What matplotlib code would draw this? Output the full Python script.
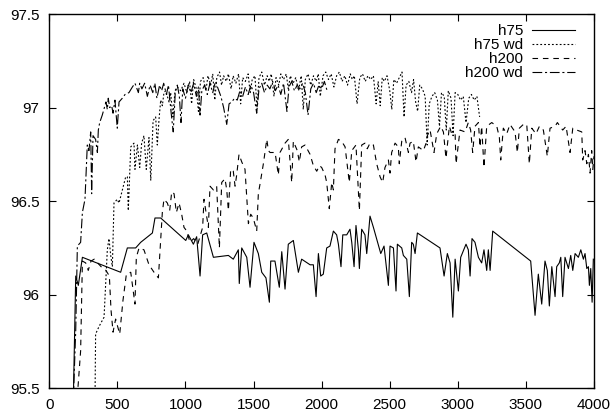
import matplotlib
matplotlib.use('Agg')
import matplotlib.pyplot as plt

# h75 (solid)
x_h75 = [170, 194, 213, 243, 524, 573, 634, 671, 757, 776, 818, 1002, 1021, 1058, 1082,
         1107, 1126, 1156, 1205, 1315, 1351, 1388, 1395, 1413, 1450, 1474, 1503, 1535,
         1560, 1591, 1616, 1626, 1657, 1689, 1707, 1731, 1755, 1792, 1829, 1853, 1915,
         1939, 1959, 1976, 1993, 2012, 2037, 2061, 2086, 2110, 2123, 2142, 2155, 2184,
         2208, 2221, 2238, 2252, 2270, 2277, 2294, 2318, 2331, 2355, 2380, 2434, 2458,
         2490, 2502, 2527, 2546, 2556, 2588, 2600, 2625, 2644, 2661, 2673, 2686, 2703,
         2869, 2899, 2923, 2943, 2963, 2980, 3004, 3021, 3060, 3077, 3090, 3104, 3126,
         3151, 3175, 3192, 3212, 3224, 3237, 3256, 3535, 3567, 3591, 3616, 3640, 3657,
         3672, 3690, 3714, 3726, 3745, 3756, 3770, 3787, 3812, 3829, 3844, 3861, 3885,
         3903, 3922, 3934, 3947, 3959, 3966, 3976, 3986, 3995]
y_h75 = [95.2, 96.10, 96.05, 96.20, 96.12, 96.25, 96.25, 96.28, 96.33, 96.41, 96.41, 96.29,
         96.32, 96.27, 96.31, 96.10, 96.32, 96.33, 96.20, 96.21, 96.19, 96.24, 96.06, 96.25,
         96.20, 96.04, 96.28, 96.22, 96.12, 96.09, 95.96, 96.18, 96.18, 96.04, 96.23, 96.03,
         96.27, 96.29, 96.12, 96.19, 96.16, 96.16, 95.99, 96.22, 96.10, 96.11, 96.25, 96.26,
         96.34, 96.32, 96.27, 96.15, 96.32, 96.32, 96.35, 96.28, 96.15, 96.37, 96.24, 96.14,
         96.35, 96.32, 96.22, 96.42, 96.36, 96.22, 96.26, 96.05, 96.26, 96.25, 96.02, 96.27,
         96.25, 96.21, 96.19, 95.99, 96.28, 96.27, 96.22, 96.33, 96.25, 96.10, 96.22, 96.17,
         95.88, 96.19, 96.02, 96.20, 96.27, 96.24, 96.10, 96.30, 96.28, 96.20, 96.17, 96.24,
         96.13, 96.24, 96.13, 96.34, 96.18, 95.89, 96.11, 95.95, 96.18, 96.13, 95.94, 96.15,
         95.99, 96.15, 96.17, 96.20, 95.99, 96.20, 96.14, 96.21, 96.13, 96.22, 96.20, 96.24,
         96.19, 96.22, 96.14, 96.15, 96.05, 96.14, 95.96, 96.19]

# h75 wd (dotted)
x_h75wd = [330, 340, 365, 402, 426, 438, 451, 463, 475, 499, 512, 561, 573, 580, 598, 622,
           629, 647, 664, 678, 695, 712, 732, 745, 762, 781, 793, 806, 818, 830, 842, 855,
           867, 879, 891, 908, 923, 940, 965, 989, 1010, 1030, 1045, 1060, 1080, 1095, 1110,
           1130, 1150, 1165, 1185, 1200, 1215, 1230, 1250, 1265, 1280, 1300, 1315, 1335,
           1350, 1370, 1390, 1405, 1420, 1440, 1460, 1475, 1490, 1510, 1525, 1540, 1560,
           1580, 1600, 1615, 1630, 1650, 1665, 1685, 1700, 1720, 1740, 1755, 1770, 1790,
           1810, 1830, 1850, 1865, 1880, 1900, 1920, 1940, 1960, 1975, 1990, 2010, 2030,
           2050, 2070, 2090, 2110, 2130, 2150, 2170, 2190, 2210, 2225, 2240, 2260, 2280,
           2300, 2320, 2340, 2360, 2380, 2400, 2415, 2430, 2445, 2460, 2480, 2500, 2515,
           2530, 2550, 2570, 2590, 2605, 2620, 2640, 2660, 2675, 2690, 2705, 2720, 2740,
           2760, 2775, 2790, 2810, 2830, 2850, 2865, 2880, 2900, 2915, 2930, 2950, 2965,
           2980, 3000, 3020, 3040, 3060, 3080, 3100, 3120, 3140, 3160]
y_h75wd = [95.0, 95.79, 95.83, 95.88, 96.24, 96.30, 96.21, 96.15, 96.49, 96.51, 96.49, 96.63,
           96.63, 96.45, 96.79, 96.81, 96.67, 96.80, 96.68, 96.81, 96.85, 96.67, 96.84, 96.61,
           96.93, 96.95, 96.80, 96.94, 97.04, 97.01, 97.08, 97.09, 97.06, 97.03, 97.08, 96.95,
           97.09, 97.11, 97.09, 97.13, 97.08, 97.14, 97.02, 97.15, 97.10, 96.98, 97.14, 97.16,
           97.09, 97.17, 97.12, 97.18, 97.04, 97.16, 97.19, 97.12, 97.17, 97.14, 97.18, 97.10,
           97.17, 97.13, 97.18, 97.02, 97.16, 97.14, 97.18, 97.08, 97.15, 97.17, 97.00, 97.16,
           97.19, 97.12, 97.17, 97.14, 97.18, 97.06, 97.16, 97.12, 97.18, 97.15, 97.18, 97.10,
           97.17, 97.13, 97.16, 97.09, 97.17, 96.99, 97.15, 97.18, 97.12, 97.17, 97.14, 97.18,
           97.06, 97.17, 97.19, 97.15, 97.18, 97.11, 97.17, 97.19, 97.14, 97.17, 97.12, 97.18,
           97.15, 97.17, 97.02, 97.16, 97.18, 97.14, 97.17, 97.15, 97.17, 97.02, 97.14, 97.01,
           97.16, 97.14, 97.17, 97.09, 96.99, 97.15, 97.13, 97.16, 97.19, 96.95, 97.12, 97.14,
           97.08, 97.15, 97.03, 96.98, 97.12, 97.10, 97.06, 96.80, 97.02, 97.06, 97.08, 97.04,
           96.90, 97.08, 97.06, 96.88, 97.09, 97.05, 96.85, 97.08, 97.07, 97.04, 97.06, 96.92,
           97.05, 97.07, 97.04, 97.06, 96.95]

# h200 (dashed)
x_h200 = [190, 230, 243, 267, 286, 306, 330, 355, 380, 416, 441, 453, 468, 487, 517, 541,
          566, 598, 629, 639, 659, 695, 732, 769, 801, 830, 842, 867, 884, 899, 916, 933,
          953, 972, 989, 1010, 1033, 1060, 1090, 1126, 1136, 1168, 1180, 1205, 1229, 1249,
          1266, 1290, 1303, 1315, 1332, 1351, 1364, 1376, 1393, 1413, 1437, 1462, 1479,
          1498, 1523, 1535, 1547, 1572, 1597, 1609, 1621, 1658, 1682, 1694, 1731, 1755,
          1780, 1792, 1821, 1836, 1853, 1878, 1915, 1939, 1964, 1983, 2000, 2025, 2037,
          2056, 2074, 2086, 2098, 2123, 2147, 2172, 2203, 2221, 2252, 2277, 2294, 2318,
          2335, 2355, 2380, 2404, 2429, 2448, 2465, 2490, 2502, 2514, 2539, 2563, 2570,
          2588, 2612, 2637, 2649, 2673, 2693, 2710, 2747, 2767, 2776, 2796, 2825, 2845,
          2874, 2894, 2913, 2938, 2955, 2980, 2987, 3016, 3053, 3077, 3094, 3109, 3126,
          3151, 3163, 3175, 3192, 3212, 3249, 3286, 3305, 3315, 3334, 3359, 3383, 3420,
          3437, 3452, 3481, 3506, 3525, 3543, 3574, 3599, 3628, 3657, 3677, 3714, 3731,
          3751, 3770, 3795, 3824, 3844, 3873, 3910, 3917, 3934, 3947, 3959, 3971, 3983,
          3991, 4000]
y_h200 = [95.3, 95.70, 96.18, 96.17, 96.13, 96.18, 96.19, 96.17, 96.15, 96.13, 96.10, 95.92,
          95.80, 95.87, 95.79, 95.97, 96.11, 96.12, 95.95, 96.20, 96.25, 96.24, 96.16, 96.12,
          96.09, 96.44, 96.51, 96.49, 96.45, 96.55, 96.54, 96.44, 96.49, 96.43, 96.36, 96.34,
          96.28, 96.30, 96.27, 96.36, 96.51, 96.36, 96.58, 96.56, 96.58, 96.25, 96.60, 96.62,
          96.56, 96.45, 96.67, 96.66, 96.58, 96.64, 96.75, 96.71, 96.67, 96.38, 96.43, 96.41,
          96.34, 96.54, 96.59, 96.70, 96.83, 96.77, 96.76, 96.76, 96.64, 96.76, 96.81, 96.83,
          96.60, 96.82, 96.77, 96.71, 96.79, 96.80, 96.75, 96.69, 96.66, 96.69, 96.68, 96.64,
          96.60, 96.46, 96.60, 96.56, 96.78, 96.83, 96.82, 96.79, 96.60, 96.77, 96.80, 96.45,
          96.80, 96.81, 96.78, 96.81, 96.80, 96.70, 96.63, 96.60, 96.68, 96.72, 96.65, 96.76,
          96.81, 96.79, 96.70, 96.82, 96.84, 96.76, 96.81, 96.82, 96.71, 96.79, 96.77, 96.81,
          96.85, 96.88, 96.76, 96.86, 96.90, 96.87, 96.73, 96.90, 96.86, 96.86, 96.70, 96.88,
          96.87, 96.92, 96.88, 96.76, 96.90, 96.92, 96.79, 96.90, 96.68, 96.90, 96.92, 96.90,
          96.84, 96.72, 96.89, 96.86, 96.91, 96.87, 96.76, 96.89, 96.91, 96.91, 96.70, 96.89,
          96.86, 96.90, 96.88, 96.74, 96.89, 96.90, 96.92, 96.90, 96.88, 96.90, 96.76, 96.89,
          96.88, 96.87, 96.72, 96.77, 96.70, 96.75, 96.65, 96.77, 96.67, 96.74]

# h200 wd (dash-dot)
x_h200wd = [165, 194, 206, 230, 243, 262, 279, 291, 304, 311, 321, 340, 353, 360, 370, 389,
            416, 426, 433, 443, 458, 468, 482, 499, 512, 536, 556, 585, 610, 629, 654, 664,
            680, 700, 720, 740, 760, 775, 790, 810, 825, 840, 860, 875, 895, 910, 925, 940,
            955, 967, 980, 1000, 1020, 1040, 1060, 1080, 1095, 1107, 1120, 1140, 1160, 1180,
            1200, 1220, 1240, 1260, 1280, 1303, 1320, 1340, 1360, 1380, 1400, 1420, 1440,
            1460, 1480, 1500, 1523, 1540, 1560, 1580, 1600, 1620, 1640, 1660, 1680, 1700,
            1720, 1745, 1760, 1780, 1800, 1820, 1840, 1860, 1880, 1900, 1920, 1940, 1960,
            1980, 2000, 2020, 2040]
y_h200wd = [95.2, 95.81, 96.26, 96.28, 96.44, 96.51, 96.80, 96.77, 96.87, 96.54, 96.85, 96.83,
            96.76, 96.88, 96.92, 96.96, 97.03, 96.99, 97.05, 97.00, 97.01, 96.97, 97.04, 96.89,
            97.03, 97.05, 97.07, 97.08, 97.11, 97.13, 97.08, 97.13, 97.10, 97.13, 97.06, 97.12,
            97.08, 97.13, 97.05, 97.12, 97.09, 97.13, 97.07, 97.12, 96.97, 96.87, 97.08, 97.12,
            97.06, 96.92, 97.10, 97.05, 97.12, 97.08, 97.13, 97.06, 97.11, 96.96, 97.09, 97.12,
            97.07, 97.13, 97.08, 97.14, 97.10, 97.06, 97.00, 96.91, 97.02, 97.03, 97.05, 97.04,
            97.09, 97.06, 97.11, 97.07, 97.12, 97.08, 96.97, 97.10, 97.13, 97.08, 97.12, 97.10,
            97.14, 97.09, 97.12, 97.07, 97.13, 96.98, 97.11, 97.14, 97.09, 97.12, 97.10, 97.13,
            97.08, 96.96, 97.10, 97.13, 97.08, 97.12, 97.10, 97.14, 97.09]

plt.rcParams['font.family'] = ['Liberation Sans', 'DejaVu Sans']
plt.rcParams['lines.scale_dashes'] = False

fig = plt.figure(figsize=(6.11, 4.17), dpi=100)
ax = fig.add_axes([0.0807, 0.0688, 0.8915, 0.8976])

ax.plot(x_h75, y_h75, color='black', lw=0.8, label='h75')
ax.plot(x_h75wd, y_h75wd, color='black', lw=0.8, linestyle=(0, (1.3, 1.5)), label='h75 wd')
ax.plot(x_h200, y_h200, color='black', lw=0.8, linestyle=(0, (4, 3.5)), label='h200')
ax.plot(x_h200wd, y_h200wd, color='black', lw=0.8, linestyle=(0, (7, 2, 1.5, 2)), label='h200 wd')

ax.set_xlim(0, 4000)
ax.set_ylim(95.5, 97.5)
ax.set_xticks(range(0, 4001, 500))
ax.set_yticks([95.5, 96, 96.5, 97, 97.5])
ax.set_yticklabels(['95.5', '96', '96.5', '97', '97.5'])
ax.tick_params(direction='in', top=True, right=True, length=5, width=0.8,
               labelsize=11, pad=7)
for s in ax.spines.values():
    s.set_linewidth(1.0)

ax.legend(loc='upper right', bbox_to_anchor=(0.965, 0.973), frameon=False,
          markerfirst=False, handlelength=2.8, handletextpad=0.6,
          labelspacing=0.0, fontsize=11, borderpad=0, borderaxespad=0)

fig.savefig('out.png', dpi=100)
